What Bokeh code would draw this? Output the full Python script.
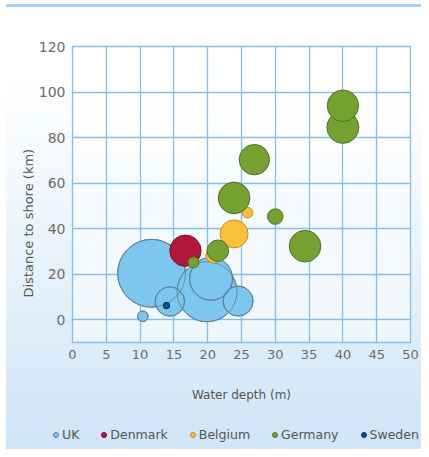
import numpy as np
from bokeh.plotting import figure
from bokeh.layouts import column
from bokeh.models import ColumnDataSource, FixedTicker, Title, Range1d, Div
from bokeh.embed import file_html
from bokeh.resources import INLINE

# ---- data (water depth m, distance to shore km, capacity MW) ----
uk_depth = [11.7, 19.9, 20.5, 24.5, 14.4, 10.4]
uk_dist = [20.4, 12.3, 18.0, 8.2, 8.0, 1.5]
uk_mw = [1150, 900, 460, 225, 215, 28]

dk_depth = [16.7]
dk_dist = [30.3]
dk_mw = [245]

be_depth = [20.9, 23.9, 25.9]
be_dist = [28.4, 37.7, 47.0]
be_mw = [64, 196, 28]

de_depth = [17.9, 21.5, 23.9, 30.0, 34.4, 26.9, 40.0, 40.0]
de_dist = [25.2, 30.3, 53.5, 45.3, 32.3, 70.3, 84.5, 94.0]
de_mw = [30, 115, 250, 60, 250, 230, 256, 246]

se_depth = [13.9]
se_dist = [6.2]
se_mw = [11]

countries = ["UK", "Denmark", "Belgium", "Germany", "Sweden"]
x_ticks = [0, 5, 10, 15, 20, 25, 30, 35, 40, 45, 50]
y_ticks = [0, 20, 40, 60, 80, 100, 120]

FONT = "DejaVu Sans"
GRID = "#86bfe6"
STYLE = {
    "UK": dict(fill_color="#7dc7ee", line_color="#5d7f96"),
    "Denmark": dict(fill_color="#b0173a", line_color="#7d1027"),
    "Belgium": dict(fill_color="#fbbf3e", line_color="#c98d22"),
    "Germany": dict(fill_color="#74a130", line_color="#4e7021"),
    "Sweden": dict(fill_color="#0b4d8f", line_color="#06335f"),
}


def src(xs, ys, mw):
    return ColumnDataSource(dict(x=xs, y=ys, mw=mw, size=[2.0 * np.sqrt(m) for m in mw]))


sources = {
    "UK": src(uk_depth, uk_dist, uk_mw),
    "Denmark": src(dk_depth, dk_dist, dk_mw),
    "Belgium": src(be_depth, be_dist, be_mw),
    "Germany": src(de_depth, de_dist, de_mw),
    "Sweden": src(se_depth, se_dist, se_mw),
}

p = figure(width=421, height=406, output_backend="svg", toolbar_location=None,
           x_range=Range1d(0, 50), y_range=Range1d(-10, 120),
           min_border_left=72, min_border_right=11, min_border_top=46, min_border_bottom=64)

p.border_fill_alpha = 0
p.background_fill_color = "white"
p.background_fill_alpha = 0.5
p.outline_line_color = GRID
p.outline_line_width = 1.3

for ax in (p.xaxis[0], p.yaxis[0]):
    ax.axis_line_color = None
    ax.major_tick_line_color = None
    ax.minor_tick_line_color = None
    ax.major_tick_out = 0
    ax.major_tick_in = 0
    ax.major_label_text_font = FONT
    ax.major_label_text_color = "#6b6b6b"

p.xaxis.ticker = FixedTicker(ticks=x_ticks)
p.yaxis.ticker = FixedTicker(ticks=y_ticks)
p.xaxis.major_label_text_font_size = "13px"
p.yaxis.major_label_text_font_size = "14px"
p.xaxis.major_label_standoff = 7
p.yaxis.major_label_standoff = 7

p.xaxis.axis_label = "Water depth (m)"
p.xaxis.axis_label_text_font = FONT
p.xaxis.axis_label_text_font_size = "12px"
p.xaxis.axis_label_text_font_style = "normal"
p.xaxis.axis_label_text_color = "#555555"
p.xaxis.axis_label_standoff = 26

p.xgrid.ticker = FixedTicker(ticks=x_ticks)
p.ygrid.ticker = FixedTicker(ticks=y_ticks)
p.grid.grid_line_color = GRID
p.grid.grid_line_width = 1.3

ytitle = Title(text="Distance to shore (km)", align="left", offset=45, standoff=0,
               text_font=FONT, text_font_size="13px", text_font_style="normal",
               text_color="#555555")
p.add_layout(ytitle, "left")

p.scatter("x", "y", size="size", source=sources["UK"], line_width=1, **STYLE["UK"])
p.scatter("x", "y", size="size", source=sources["UK"],
          fill_color=None, line_color=STYLE["UK"]["line_color"], line_width=1, line_alpha=0.8)
for c in countries[1:]:
    p.scatter("x", "y", size="size", source=sources[c], line_width=1, **STYLE[c])

# ---- legend as an HTML strip under the chart ----
parts = []
for i, c in enumerate(countries):
    st = STYLE[c]
    gap = "0" if i == len(countries) - 1 else "22px"
    parts.append(
        f"<span style='display:inline-flex;align-items:center;margin-right:{gap}'>"
        f"<span style='display:inline-block;width:6px;height:6px;border-radius:50%;"
        f"background:{st['fill_color']};border:1px solid {st['line_color']};margin-right:3px'></span>"
        f"{c}</span>"
    )
legend_html = (
    f"<div style=\"display:flex;align-items:center;height:16px;margin-top:21px;margin-left:53px;"
    f"font-family:'{FONT}';font-size:12.5px;color:#555555;white-space:nowrap;line-height:16px\">"
    + "".join(parts) + "</div>"
)
legend_div = Div(text=legend_html, width=421, height=43, margin=0)

layout = column(p, legend_div, spacing=0)
layout.styles = {
    "background": "linear-gradient(to right, #ffffff 0px, #ffffff 6px, transparent 6px), "
                  "linear-gradient(to bottom, #ffffff 0px, #ffffff 4px, #a8d4f2 4px, #a8d4f2 7px, "
                  "#ffffff 7px, #ffffff 18%, #cfe5f7 100%)"
}

open("out.html", "w").write(file_html(layout, INLINE))
